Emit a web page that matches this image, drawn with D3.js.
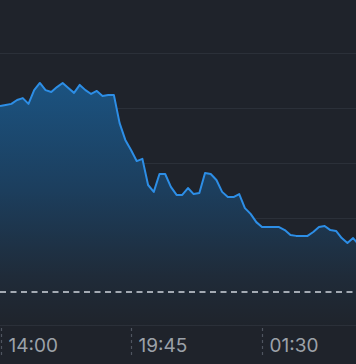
<!DOCTYPE html>
<html>
<head>
<meta charset="utf-8">
<script src="https://cdn.jsdelivr.net/npm/d3@7"></script>
<style>
  html, body { margin: 0; padding: 0; background: #1f232b; overflow: hidden; }
  svg { display: block; }
</style>
</head>
<body>
<div id="viz"></div>
<script>
const WIDTH = 356, HEIGHT = 364;

// 15-minute samples starting 14:00
const startTime = "2024-01-01T14:00";
const values = [
  80.7, 81.1, 81.5, 82.9, 83.6, 81.5, 86.5, 89.1, 86.5, 85.8,
  87.6, 89.1, 87.3, 85.5, 88.4, 86.5, 85.1, 86.2, 84.4, 84.7,
  84.7, 74.5, 68.4, 64.7, 60.7, 61.5, 52.0, 49.5, 56.0, 56.0,
  51.3, 48.4, 48.4, 50.9, 48.7, 49.1, 56.4, 56.0, 53.8, 49.5,
  47.6, 47.6, 48.7, 43.6, 41.5, 38.5, 36.7, 36.7, 36.7, 36.7,
  35.6, 33.8, 33.5, 33.5, 33.5, 34.9, 36.7, 37.1, 35.6, 35.3,
  32.7, 30.9, 32.7, 30.2
];
const gridValues = [100, 80, 60, 40, 20];
const refValue = 13.1;
const tickLabels = ["14:00", "19:45", "01:30"];

const t0 = new Date(startTime);
const data = values.map((v, i) => ({ t: new Date(t0.getTime() + i * 15 * 60000), v }));
const tickTimes = [0, 23, 46].map(i => new Date(t0.getTime() + i * 15 * 60000));

const x = d3.scaleTime()
  .domain([t0, new Date(t0.getTime() + 23 * 15 * 60000)])
  .range([0, 131]);
const y = d3.scaleLinear()
  .domain([20, 100])
  .range([273, 53]);

const baseY = 325;

const svg = d3.select("#viz").append("svg")
  .attr("width", WIDTH)
  .attr("height", HEIGHT);

svg.append("rect").attr("width", WIDTH).attr("height", HEIGHT).attr("fill", "#1f232b");

const defs = svg.append("defs");
const grad = defs.append("linearGradient")
  .attr("id", "areaGrad")
  .attr("gradientUnits", "userSpaceOnUse")
  .attr("x1", 0).attr("x2", 0)
  .attr("y1", y(90)).attr("y2", baseY);
grad.append("stop").attr("offset", "0%").attr("stop-color", "#1b5381");
grad.append("stop").attr("offset", "45%").attr("stop-color", "#1c3e5d");
grad.append("stop").attr("offset", "80%").attr("stop-color", "#1f2b39");
grad.append("stop").attr("offset", "100%").attr("stop-color", "#1f242c");

// grid
svg.append("g")
  .selectAll("line")
  .data(gridValues)
  .join("line")
  .attr("x1", 0).attr("x2", WIDTH)
  .attr("y1", d => y(d) + 0.5).attr("y2", d => y(d) + 0.5)
  .attr("stroke", "#2b3039")
  .attr("stroke-width", 1);

// area + line
svg.append("path")
  .datum(data)
  .attr("d", d3.area().x(d => x(d.t)).y0(baseY).y1(d => y(d.v)))
  .attr("fill", "url(#areaGrad)");

svg.append("path")
  .datum(data)
  .attr("d", d3.line().x(d => x(d.t)).y(d => y(d.v)))
  .attr("fill", "none")
  .attr("stroke", "#2d8ee6")
  .attr("stroke-width", 2)
  .attr("stroke-linejoin", "round");

// reference dashed line
svg.append("line")
  .attr("x1", 0).attr("x2", WIDTH)
  .attr("y1", y(refValue)).attr("y2", y(refValue))
  .attr("stroke", "#a3aab3")
  .attr("stroke-width", 2)
  .attr("stroke-dasharray", "6,4.5");

// bottom axis line
svg.append("line")
  .attr("x1", 0).attr("x2", WIDTH)
  .attr("y1", baseY + 0.5).attr("y2", baseY + 0.5)
  .attr("stroke", "#2b3039");

// x ticks
const ticks = svg.append("g")
  .selectAll("g")
  .data(tickTimes)
  .join("g")
  .attr("transform", d => `translate(${Math.max(1, Math.round(x(d))) + 0.5},0)`);

ticks.append("line")
  .attr("y1", baseY + 3).attr("y2", 358)
  .attr("stroke", "#4f5560")
  .attr("stroke-width", 1.2)
  .attr("stroke-dasharray", "3,3");

ticks.append("text")
  .attr("x", 7)
  .attr("y", 352)
  .attr("fill", "#9ca1a8")
  .style("font-family", "Inter, 'Liberation Sans', Arial, sans-serif")
  .style("font-size", "19px")
  .text((d, i) => tickLabels[i]);
</script>
</body>
</html>
